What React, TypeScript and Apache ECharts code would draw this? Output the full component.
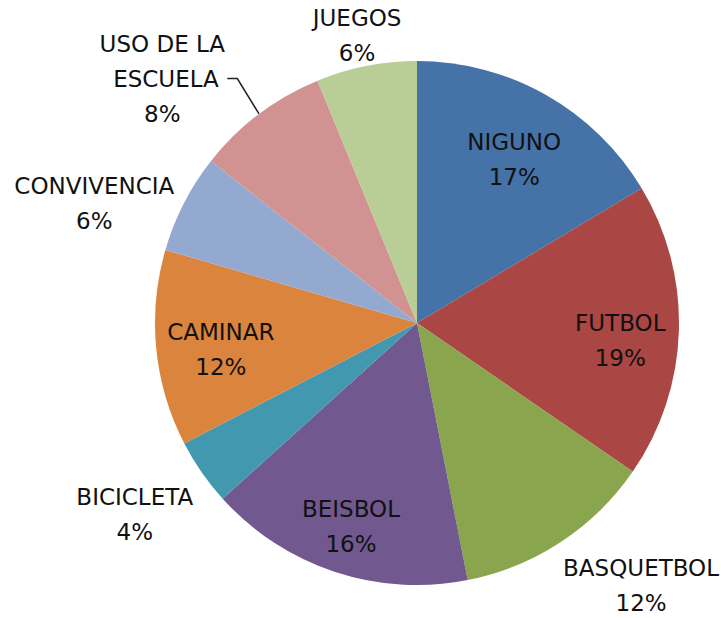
import React, { useEffect, useRef } from 'react';
import * as echarts from 'echarts';

// Categories and slice shares
const categories = [
  'NIGUNO',
  'FUTBOL',
  'BASQUETBOL',
  'BEISBOL',
  'BICICLETA',
  'CAMINAR',
  'CONVIVENCIA',
  'USO DE LA ESCUELA',
  'JUEGOS',
];
const shares = [16.4, 18.2, 12.3, 16.4, 4.1, 12.1, 6.1, 8.2, 6.2];
// Percent labels as printed on the chart
const percentLabels = ['17%', '19%', '12%', '16%', '4%', '12%', '6%', '8%', '6%'];

const colors = [
  '#4572A7',
  '#AA4643',
  '#89A54E',
  '#71588F',
  '#4198AF',
  '#DB843D',
  '#93A9CF',
  '#D19392',
  '#B9CD96',
];

// layout
const CX = 417;
const CY = 323;
const R = 262;
const labelAngleShift = [1.25, 3.1, -7.2, -0.4, 0.6, -2.2, -6.9, -9.1, -0.6];
const labelDistance = [190, 204, 345, 214, 341, 198, 344, 353, 294];

export default function App() {
  const ref = useRef<HTMLDivElement>(null);
  useEffect(() => {
    document.body.style.margin = '0';
    const chart = echarts.init(ref.current as HTMLDivElement, null, { renderer: 'svg' });
    const total = shares.reduce((a, b) => a + b, 0);
    let acc = 0;
    const mids = shares.map((v) => {
      const m = ((acc + v / 2) / total) * 360;
      acc += v;
      return m;
    });
    chart.setOption({
      animation: false,
      backgroundColor: '#ffffff',
      series: [
        {
          type: 'pie',
          center: [CX, CY],
          radius: R,
          startAngle: 90,
          clockwise: true,
          avoidLabelOverlap: false,
          emphasis: { disabled: true },
          data: categories.map((name, i) => ({
            name,
            value: shares[i],
            itemStyle: { color: colors[i] },
            label: i === 7 ? { width: 130, overflow: 'break' } : undefined,
            labelLine: i === 7 ? { show: true, length: 10, length2: 10 } : undefined,
          })),
          label: {
            show: true,
            position: 'outside',
            formatter: (p: any) => `${p.name}\n${percentLabels[p.dataIndex]}`,
            fontFamily: 'DejaVu Sans',
            fontSize: 23,
            lineHeight: 35,
            color: '#111111',
          },
          labelLine: {
            show: false,
            lineStyle: { color: '#222222', width: 1.5 },
          },
          labelLayout: (p: any) => {
            const i = p.dataIndex;
            const a = ((mids[i] + labelAngleShift[i]) * Math.PI) / 180;
            return {
              x: CX + labelDistance[i] * Math.sin(a),
              y: CY - labelDistance[i] * Math.cos(a),
              align: 'center',
              verticalAlign: 'middle',
            };
          },
        },
      ],
    });
    return () => chart.dispose();
  }, []);
  return <div ref={ref} style={{ width: 721, height: 618 }} />;
}
